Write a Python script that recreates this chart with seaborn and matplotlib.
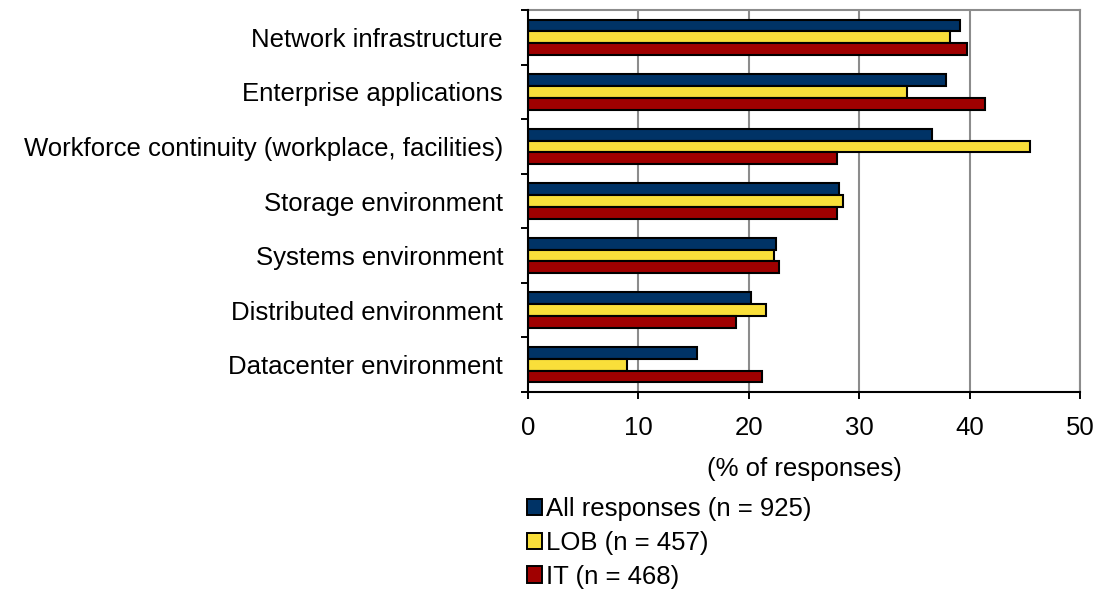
import matplotlib
matplotlib.use("Agg")
import matplotlib.pyplot as plt
import seaborn as sns
import pandas as pd
from matplotlib.ticker import FixedLocator
from matplotlib.patches import Patch

categories = [
    "Network infrastructure",
    "Enterprise applications",
    "Workforce continuity (workplace, facilities)",
    "Storage environment",
    "Systems environment",
    "Distributed environment",
    "Datacenter environment",
]
series_names = ["All responses (n = 925)", "LOB (n = 457)", "IT (n = 468)"]
all_responses = [39.1, 37.9, 36.6, 28.2, 22.5, 20.2, 15.3]
lob = [38.2, 34.3, 45.5, 28.5, 22.3, 21.6, 9.0]
it = [39.8, 41.4, 28.0, 28.0, 22.7, 18.8, 21.2]
x_ticks = [0, 10, 20, 30, 40, 50]
x_label = "(% of responses)"
colors = ["#003366", "#F9DF3A", "#A00000"]

rows = []
for name, vals in zip(series_names, [all_responses, lob, it]):
    for c, v in zip(categories, vals):
        rows.append({"category": c, "series": name, "value": v})
df = pd.DataFrame(rows)

sns.set_theme(style="white")
plt.rcParams["font.family"] = ["Liberation Sans", "DejaVu Sans"]
FS = 18.5

fig = plt.figure(figsize=(11.08, 5.90), dpi=100)
ax = fig.add_axes([528 / 1108, 1 - 392 / 590, (1080 - 528) / 1108, (392 - 10) / 590])

sns.barplot(
    data=df, y="category", x="value", hue="series", order=categories,
    hue_order=series_names, palette=colors, saturation=1, orient="h", width=0.65,
    edgecolor="black", linewidth=1.5, ax=ax, legend=False, zorder=3,
)

ax.set_xlim(0, 50)
ax.set_ylim(len(categories) - 0.5, -0.5)
ax.set_xticks(x_ticks)
ax.set_xticklabels([str(t) for t in x_ticks], fontsize=FS, color="black")
ax.set_xlabel(x_label, fontsize=FS, labelpad=12.5, color="black")
ax.set_ylabel("")
ax.tick_params(axis="x", direction="out", length=5, width=1.4, color="black",
               pad=12, bottom=True)
ax.tick_params(axis="y", which="major", length=0, pad=18, labelsize=FS,
               labelcolor="black")
ax.yaxis.set_minor_locator(FixedLocator([i - 0.5 for i in range(len(categories) + 1)]))
ax.tick_params(axis="y", which="minor", direction="out", length=5, width=1.4,
               color="black", left=True)

for xv in x_ticks[1:]:
    ax.axvline(xv, color="#8C8C8C", linewidth=1.5, zorder=1)
for side in ["top", "right"]:
    ax.spines[side].set_color("#8C8C8C")
    ax.spines[side].set_linewidth(1.5)
for side in ["left", "bottom"]:
    ax.spines[side].set_color("black")
    ax.spines[side].set_linewidth(1.5)
    ax.spines[side].set_zorder(5)

handles = [Patch(facecolor=c, edgecolor="black", linewidth=1.4) for c in colors]
fig.legend(handles, series_names, loc="upper left",
           bbox_to_anchor=(527 / 1108, 1 - 497 / 590), frameon=False,
           fontsize=FS, labelcolor="black", handlelength=0.6, handleheight=0.6,
           handletextpad=0.15, labelspacing=0.38, borderpad=0, borderaxespad=0)

fig.savefig("out.png", dpi=100)
